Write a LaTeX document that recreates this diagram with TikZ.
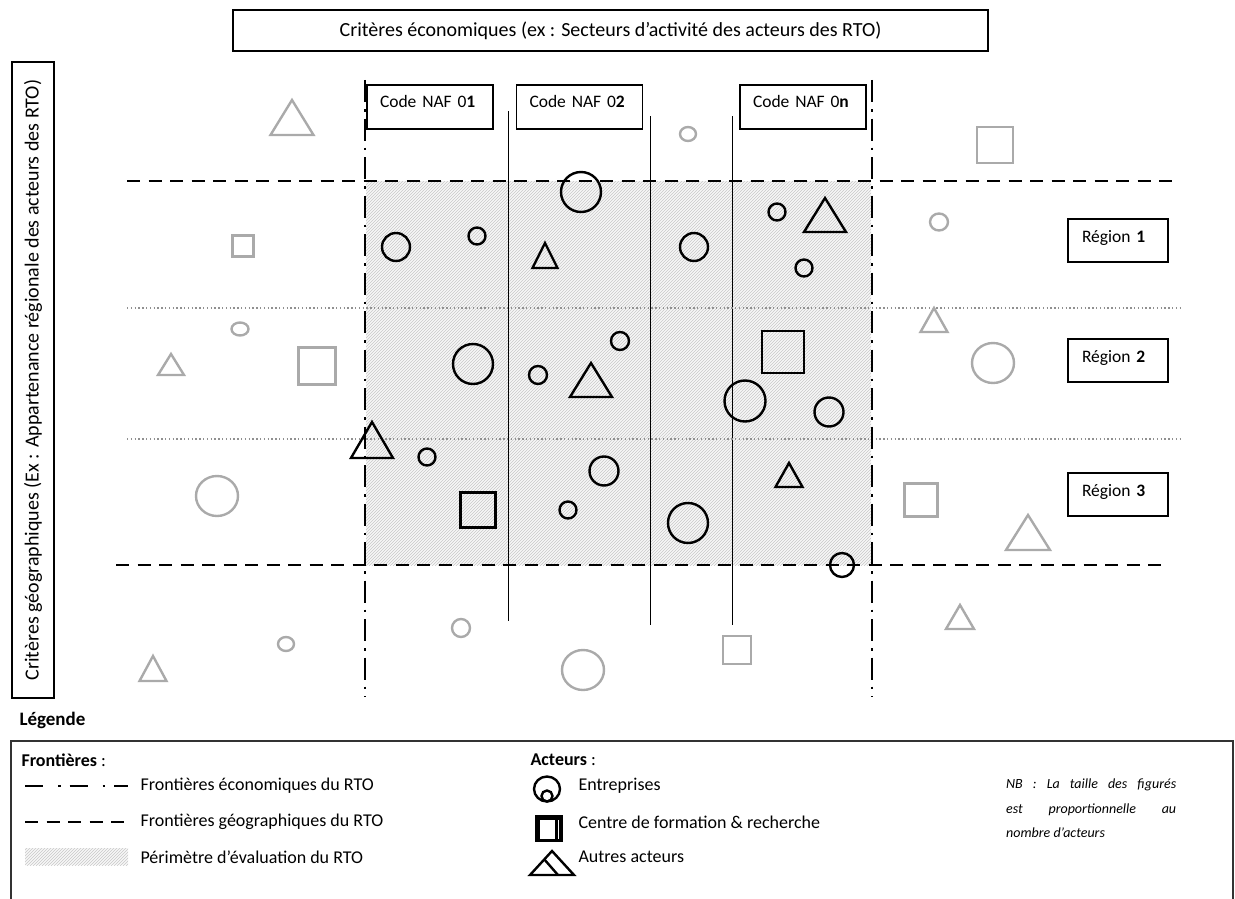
\documentclass[tikz,border=0pt]{standalone}
\usepackage{fontspec}
\setmainfont{Carlito}
\usetikzlibrary{patterns,positioning}
\definecolor{ghost}{RGB}{170,170,170}
\definecolor{hatchgray}{RGB}{200,200,200}

\begin{document}
\begin{tikzpicture}[
          x=1pt, y=-1pt,
          font=\fontsize{18}{21}\selectfont,
          frame/.style={draw, line width=1.1pt},
          bigtext/.style={font=\fontsize{20}{24}\selectfont},
          nafbox/.style={frame, font=\fontsize{17.5}{21}\selectfont, minimum width=126pt, minimum height=44pt, text width=100pt, inner xsep=13pt, align=left, text depth=12pt},
          regbox/.style={frame, font=\fontsize{17.5}{21}\selectfont, minimum height=43pt, text width=72pt, inner xsep=14pt, align=left, text depth=9pt},
          ecoline/.style={line width=2.6pt, dash pattern=on 22pt off 7pt on 2.5pt off 7pt},
          ecosample/.style={line width=2.6pt, dash pattern=on 18pt off 15pt on 2.5pt off 9pt},
          geoline/.style={line width=2.6pt, dash pattern=on 13pt off 8.5pt},
          regline/.style={draw=ghost!85!black, line width=1.4pt, dash pattern=on 1.4pt off 2.4pt},
          nafline/.style={line width=0.9pt},
          actor/.style={line width=2.4pt},
          other/.style={actor, draw=ghost},
          perimeter/.style={fill=black!3, postaction={pattern=north east lines, pattern color=hatchgray}},
          legtext/.style={anchor=west}
        ]
          \useasboundingbox (0,0) rectangle (1235,899);

          % criteria
          \node[frame, bigtext, minimum width=755pt, minimum height=41pt] (eco) at (610.5,30.5) {Critères économiques (ex : Secteurs d’activité des acteurs des RTO)};
          \node[frame, bigtext, rotate=90, minimum width=636pt, minimum height=42pt] (geo) at (33,380) {Critères géographiques (Ex : Appartenance régionale des acteurs des RTO)};

          % perimeter
          \fill[perimeter] (366,181) rectangle (871,565);

          % sectors
          \node[nafbox] (naf1) at (430,107) {Code NAF 0\textbf{1}};
          \node[nafbox] (naf2) at (579.5,107) {Code NAF 0\textbf{2}};
          \node[nafbox] (nafn) at (803,107) {Code NAF 0\textbf{n}};
          \draw[nafline] (508,111) -- (508,621);
          \draw[nafline] (650,116) -- (650,625);
          \draw[nafline] (732,116) -- (732,625);

          % regions
          \node[regbox] (reg1) at (1118,240.5) {Région \textbf{1}};
          \node[regbox] (reg2) at (1118,360.5) {Région \textbf{2}};
          \node[regbox] (reg3) at (1118,494.5) {Région \textbf{3}};
          \draw[regline] (127,308) -- (1183,308);
          \draw[regline] (127,439) -- (1183,439);

          % boundaries
          \draw[geoline] (127,181) -- (1177,181);
          \draw[geoline] (116,565) -- (1165,565);
          \draw[ecoline] (365,80) -- (365,697);
          \draw[ecoline] (872,80) -- (872,697);

          % actors inside the RTO
          \foreach \x/\y/\r in {581/192/20, 396/247/14, 477/236/8.5, 694/247/14, 777/212/8.5, 804/268/8.5,
                                473/364/20, 538/375/9, 620/341/9, 745/401/20.5, 829/412/14.5,
                                427/457/8.5, 604/471/14.5, 568/510/8.5, 688/523/20, 842/565/12}
            \draw[actor] (\x,\y) circle (\r);
          \foreach \x/\y/\w/\h in {545/268/25/25, 825/232/42/34, 591/397/42/34, 372/458/42/36, 789/487/27/24}
            \draw[actor] ({\x-\w/2},\y) -- (\x,{\y-\h}) -- ({\x+\w/2},\y) -- cycle;
          \foreach \x/\y/\s in {783/352/42, 478/510/35}
            \draw[actor] ({\x-\s/2},{\y-\s/2}) rectangle ++(\s,\s);

          % actors outside the RTO
          \foreach \x/\y/\rx/\ry in {688/134/8/7, 939/222/9/8.5, 240/329/8.5/6.5, 217/496/21/20,
                                     993/363/21/20, 286/644/8/7, 461/628/9/9, 583/670/21/20}
            \draw[other] (\x,\y) ellipse (\rx pt and \ry pt);
          \foreach \x/\y/\w/\h in {292/135/43/35, 171/375/26/21, 153/681/27/25, 934/332/27/24, 1028/550/44/35, 960/629/28/24}
            \draw[other] ({\x-\w/2},\y) -- (\x,{\y-\h}) -- ({\x+\w/2},\y) -- cycle;
          \foreach \x/\y/\s in {243/246/21, 317/366/37, 995/145/36, 921/500/33, 737/650/28}
            \draw[other] ({\x-\s/2},{\y-\s/2}) rectangle ++(\s,\s);

          % legend
          \node[legtext, font=\fontsize{19}{22}\selectfont\bfseries] (leg) at (16,720) {Légende};
          \draw[line width=1.4pt, draw=black!80] (11,741) rectangle (1233,905);

          \node[legtext] (front) at (18,760) {\textbf{Frontières} :};
          \draw[ecosample] (25,786) -- (128,786);
          \node[legtext] (ecotxt) at (137,786) {Frontières économiques du RTO};
          \draw[geoline] (25,822) -- (128,822);
          \node[legtext] (geotxt) at (137,822) {Frontières géographiques du RTO};
          \fill[perimeter] (25,848) rectangle (128,865);
          \node[legtext] (pertxt) at (137,857) {Périmètre d’évaluation du RTO};

          \node[legtext] (act) at (527,760) {\textbf{Acteurs} :};
          \draw[actor] (547,789) ellipse (13pt and 12.5pt);
          \draw[actor] (547,796) circle (5.5);
          \node[legtext] (enttxt) at (575,786) {Entreprises};
          \fill (535,815) rectangle (563,842);
          \fill[white] (539.5,820) rectangle (555,838.5);
          \fill[white] (557.5,820) rectangle (559,838.5);
          \node[legtext] (cfrtxt) at (575,822) {Centre de formation \& recherche};
          \draw[actor] (530,875) -- (552,851) -- (574,875) -- cycle;
          \draw[actor] (544,859) -- (558,875);
          \node[legtext] (auttxt) at (575,857) {Autres acteurs};

          \node[anchor=north west, inner sep=0pt, align=left, font=\fontsize{14}{24.5}\selectfont\itshape] (nb) at (1006,779)
            {\makebox[170pt][s]{NB : La taille des figurés}\\\makebox[170pt][s]{est proportionnelle au}\\nombre d’acteurs};
        \end{tikzpicture}
\end{document}
